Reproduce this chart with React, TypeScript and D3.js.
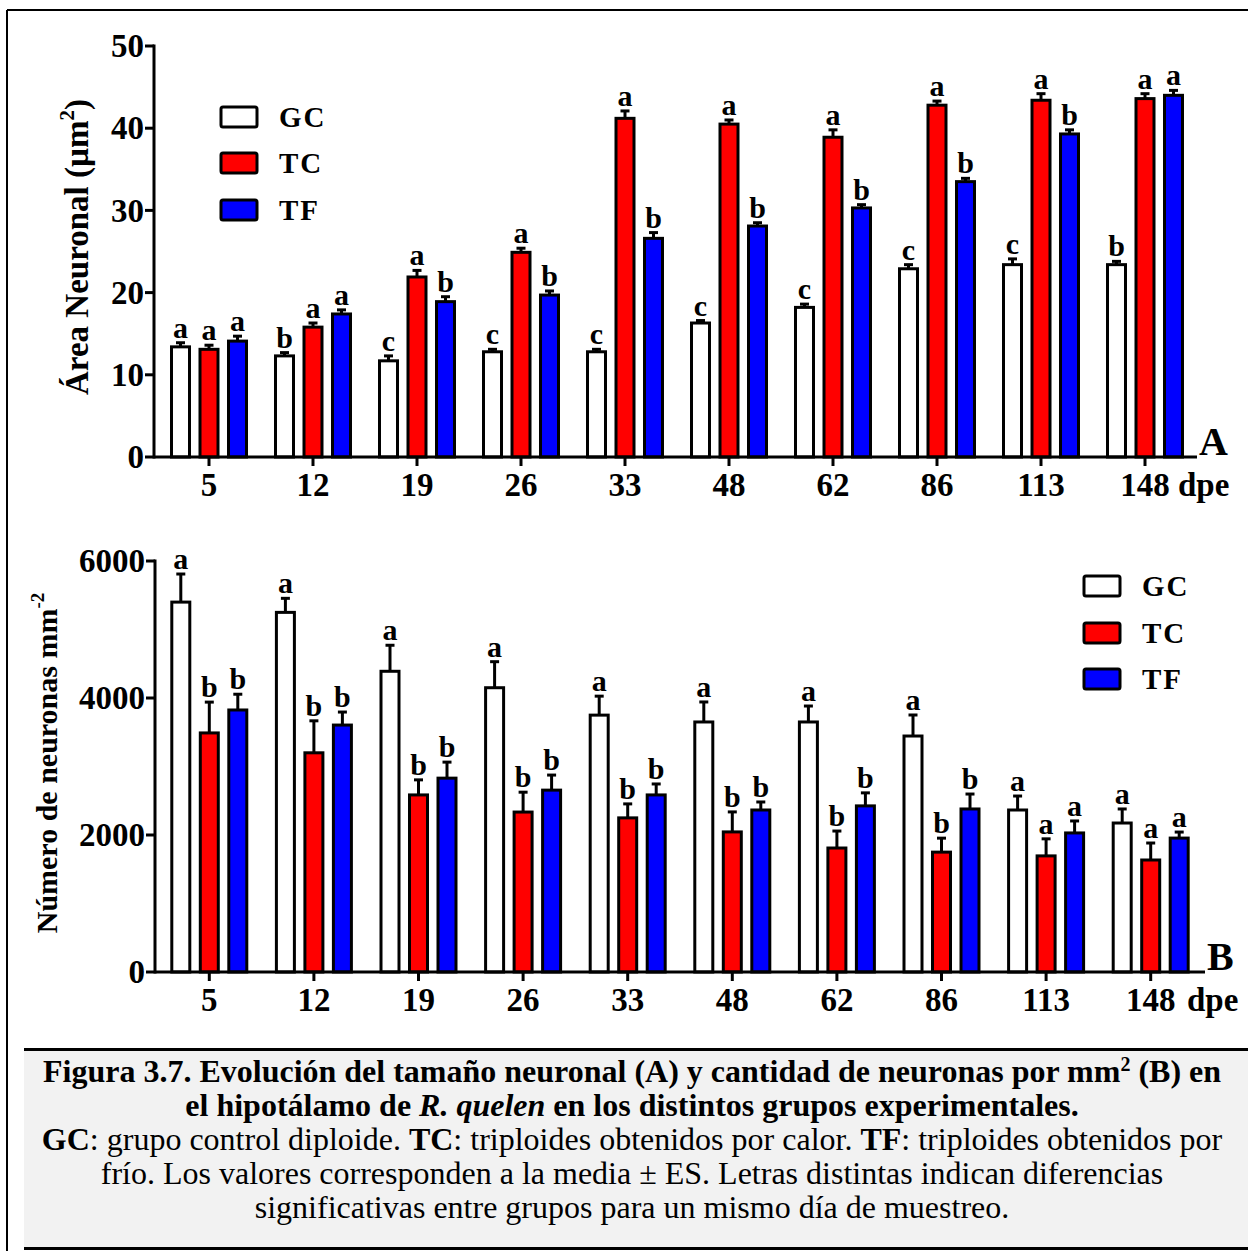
import React from "react";
import * as d3 from "d3";

const days = ["5", "12", "19", "26", "33", "48", "62", "86", "113", "148"];
const groups = ["GC", "TC", "TF"];
const groupColors = ["#ffffff", "#ff0000", "#0000ff"];

// Panel A: Área neuronal (µm²)
const areaGC = [13.4, 12.3, 11.7, 12.8, 12.8, 16.3, 18.2, 22.9, 23.4, 23.4];
const areaTC = [13.1, 15.8, 21.9, 24.9, 41.2, 40.5, 38.9, 42.8, 43.4, 43.6];
const areaTF = [14.1, 17.4, 18.9, 19.7, 26.6, 28.1, 30.3, 33.5, 39.3, 44.0];
const areaErrGC = [0.5, 0.4, 0.6, 0.3, 0.3, 0.3, 0.4, 0.5, 0.7, 0.4];
const areaErrTC = [0.5, 0.5, 0.8, 0.5, 0.9, 0.5, 0.9, 0.5, 0.8, 0.6];
const areaErrTF = [0.6, 0.5, 0.6, 0.5, 0.7, 0.4, 0.4, 0.4, 0.5, 0.6];
const areaSigGC = ["a", "b", "c", "c", "c", "c", "c", "c", "c", "b"];
const areaSigTC = ["a", "a", "a", "a", "a", "a", "a", "a", "a", "a"];
const areaSigTF = ["a", "a", "b", "b", "b", "b", "b", "b", "b", "a"];
const areaTicks = [0, 10, 20, 30, 40, 50];

// Panel B: Número de neuronas mm-2
const countGC = [5400, 5250, 4390, 4150, 3750, 3650, 3650, 3445, 2365, 2175];
const countTC = [3490, 3200, 2585, 2335, 2250, 2045, 1810, 1750, 1695, 1635];
const countTF = [3825, 3605, 2830, 2655, 2585, 2365, 2425, 2380, 2030, 1955];
const countErrGC = [410, 205, 380, 380, 277, 292, 233, 307, 204, 205];
const countErrTC = [450, 467, 220, 290, 204, 292, 248, 204, 249, 248];
const countErrTF = [230, 190, 234, 220, 160, 117, 190, 218, 175, 88];
const countSigGC = ["a", "a", "a", "a", "a", "a", "a", "a", "a", "a"];
const countSigTC = ["b", "b", "b", "b", "b", "b", "b", "b", "a", "a"];
const countSigTF = ["b", "b", "b", "b", "b", "b", "b", "b", "a", "a"];
const countTicks = [0, 2000, 4000, 6000];

const FONT = "'Liberation Serif', 'Times New Roman', serif";

type PanelProps = {
  values: number[][];
  errors: number[][];
  sigs: string[][];
  domain: [number, number];
  ticks: number[];
  yTop: number;
  yBottom: number;
  xLeft: number;
  xRange: [number, number];
  axisEnd: number;
  title: React.ReactNode;
  titleX: number;
  titleY: number;
  titleSize: number;
  legendX: number;
  legendYs: number[];
  panelLabel: string;
  panelLabelX: number;
  dpeX: number;
};

function Panel(p: PanelProps) {
  const y = d3.scaleLinear().domain(p.domain).range([p.yBottom, p.yTop]);
  const x = d3.scaleBand<string>().domain(days).range(p.xRange);
  const inner = d3.scaleBand<string>().domain(groups).range([-42.75, 42.75]);
  const barW = 18;
  const tickFs = 33;
  return (
    <g fontFamily={FONT} fontWeight="bold">
      {/* bars */}
      {groups.map((g, gi) =>
        days.map((d, di) => {
          const cx = (x(d) as number) + x.bandwidth() / 2 + (inner(g) as number) + inner.bandwidth() / 2;
          const v = p.values[gi][di];
          const e = p.errors[gi][di];
          const yv = y(v);
          const ye = y(v + e);
          return (
            <g key={g + d}>
              <line x1={cx} x2={cx} y1={yv} y2={ye} stroke="#000" strokeWidth={3} />
              <line x1={cx - 4.5} x2={cx + 4.5} y1={ye} y2={ye} stroke="#000" strokeWidth={3} />
              <rect
                x={cx - barW / 2}
                y={yv}
                width={barW}
                height={p.yBottom - yv}
                fill={groupColors[gi]}
                stroke="#000"
                strokeWidth={3}
              />
              <text x={cx} y={ye - 5} textAnchor="middle" fontSize={30}>
                {p.sigs[gi][di]}
              </text>
            </g>
          );
        })
      )}
      {/* y axis */}
      <line x1={p.xLeft} x2={p.xLeft} y1={p.yTop - 1.5} y2={p.yBottom + 1.5} stroke="#000" strokeWidth={3} />
      {p.ticks.map((t) => (
        <g key={t}>
          <line x1={p.xLeft - 9} x2={p.xLeft} y1={y(t)} y2={y(t)} stroke="#000" strokeWidth={3} />
          <text x={p.xLeft - 10} y={y(t)} dy="0.34em" textAnchor="end" fontSize={tickFs}>
            {t}
          </text>
        </g>
      ))}
      {/* x axis */}
      <line x1={p.xLeft} x2={p.axisEnd} y1={p.yBottom} y2={p.yBottom} stroke="#000" strokeWidth={3} />
      {days.map((d) => {
        const cx = (x(d) as number) + x.bandwidth() / 2;
        return (
          <g key={d}>
            <line x1={cx} x2={cx} y1={p.yBottom} y2={p.yBottom + 9} stroke="#000" strokeWidth={3} />
            <text x={cx} y={p.yBottom + 39} textAnchor="middle" fontSize={tickFs}>
              {d}
            </text>
          </g>
        );
      })}
      <text x={p.dpeX} y={p.yBottom + 39} fontSize={tickFs}>
        dpe
      </text>
      {/* y title */}
      <text
        transform={`translate(${p.titleX},${p.titleY}) rotate(-90)`}
        textAnchor="middle"
        fontSize={p.titleSize}
      >
        {p.title}
      </text>
      {/* legend */}
      {groups.map((g, gi) => (
        <g key={g}>
          <rect
            x={p.legendX}
            y={p.legendYs[gi] - 10}
            width={36}
            height={20}
            rx={2}
            fill={groupColors[gi]}
            stroke="#000"
            strokeWidth={3}
          />
          <text x={p.legendX + 58} y={p.legendYs[gi]} dy="0.35em" fontSize={29} letterSpacing={2}>
            {g}
          </text>
        </g>
      ))}
      {/* panel label */}
      <text x={p.panelLabelX} y={p.yBottom - 2} fontSize={40}>
        {p.panelLabel}
      </text>
    </g>
  );
}

export default function App() {
  return (
    <svg
      width={1248}
      height={1251}
      style={{ position: "absolute", left: 0, top: 0, display: "block", background: "#fff" }}
    >
      <rect x={0} y={0} width={1248} height={1251} fill="#fff" />
      {/* outer frame */}
      <line x1={7} x2={1248} y1={10} y2={10} stroke="#000" strokeWidth={2} />
      <line x1={7} x2={7} y1={10} y2={1251} stroke="#000" strokeWidth={2} />

      <Panel
        values={[areaGC, areaTC, areaTF]}
        errors={[areaErrGC, areaErrTC, areaErrTF]}
        sigs={[areaSigGC, areaSigTC, areaSigTF]}
        domain={[0, 50]}
        ticks={areaTicks}
        yTop={46}
        yBottom={457}
        xLeft={154}
        xRange={[157, 1197]}
        axisEnd={1197}
        title={
          <>
            <tspan>Área Neuronal (µm</tspan>
            <tspan fontSize={21} dy={-14}>2</tspan>
            <tspan dy={14}>)</tspan>
          </>
        }
        titleX={88}
        titleY={247}
        titleSize={33}
        legendX={221}
        legendYs={[117, 163, 210]}
        panelLabel="A"
        panelLabelX={1199}
        dpeX={1178}
      />

      <Panel
        values={[countGC, countTC, countTF]}
        errors={[countErrGC, countErrTC, countErrTF]}
        sigs={[countSigGC, countSigTC, countSigTF]}
        domain={[0, 6000]}
        ticks={countTicks}
        yTop={561}
        yBottom={972}
        xLeft={155}
        xRange={[157, 1203]}
        axisEnd={1205}
        title={
          <>
            <tspan>Número de neuronas mm</tspan>
            <tspan fontSize={19} dy={-13}>-2</tspan>
          </>
        }
        titleX={57}
        titleY={763}
        titleSize={30}
        legendX={1084}
        legendYs={[586, 633, 679]}
        panelLabel="B"
        panelLabelX={1207}
        dpeX={1187}
      />

      {/* caption box */}
      <rect x={24} y={1049} width={1224} height={200} fill="#f2f2f2" />
      <line x1={24} x2={1248} y1={1049.5} y2={1049.5} stroke="#000" strokeWidth={3} />
      <line x1={24} x2={1248} y1={1248.5} y2={1248.5} stroke="#000" strokeWidth={3} />
      <g fontFamily={FONT} fontSize={32} textAnchor="middle" fill="#000">
        <text x={632} y={1082} fontWeight="bold">
          <tspan>Figura 3.7. Evolución del tamaño neuronal (A) y cantidad de neuronas por mm</tspan>
          <tspan fontSize={20} dy={-11}>2</tspan>
          <tspan dy={11}> (B) en</tspan>
        </text>
        <text x={632} y={1116} fontWeight="bold">
          <tspan>el hipotálamo de </tspan>
          <tspan fontStyle="italic">R. quelen</tspan>
          <tspan> en los distintos grupos experimentales.</tspan>
        </text>
        <text x={632} y={1150}>
          <tspan fontWeight="bold">GC</tspan>
          <tspan>: grupo control diploide. </tspan>
          <tspan fontWeight="bold">TC</tspan>
          <tspan>: triploides obtenidos por calor. </tspan>
          <tspan fontWeight="bold">TF</tspan>
          <tspan>: triploides obtenidos por</tspan>
        </text>
        <text x={632} y={1184}>
          frío. Los valores corresponden a la media ± ES. Letras distintas indican diferencias
        </text>
        <text x={632} y={1218}>
          significativas entre grupos para un mismo día de muestreo.
        </text>
      </g>
    </svg>
  );
}
